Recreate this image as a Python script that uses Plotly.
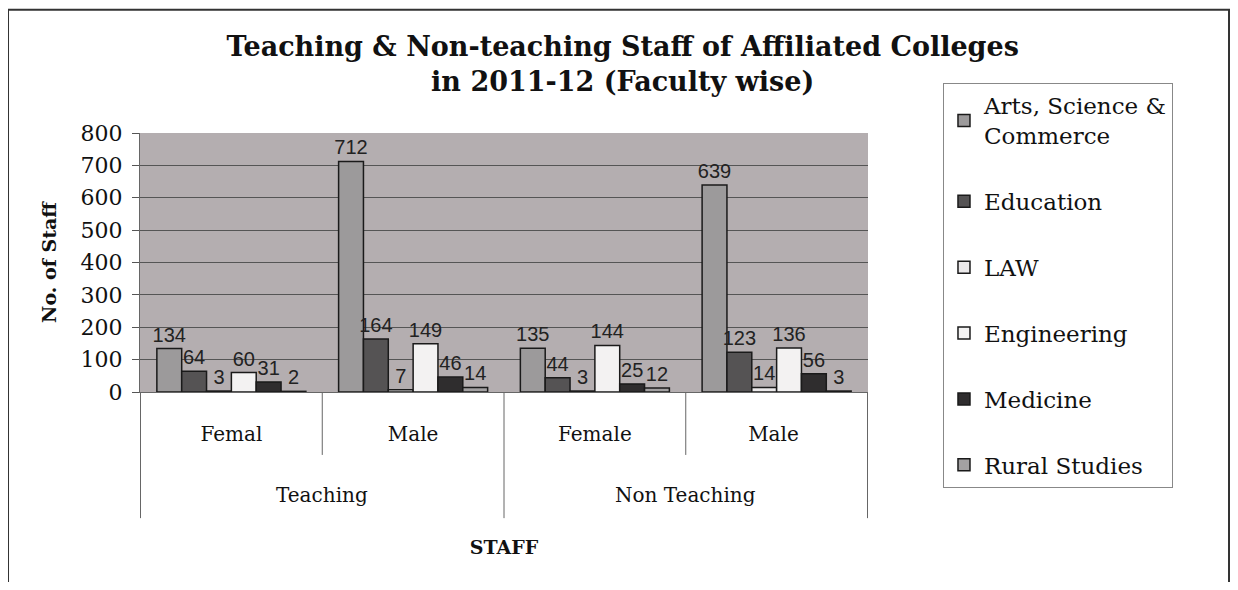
import plotly.graph_objects as go

staff_type = ["Teaching", "Teaching", "Non Teaching", "Non Teaching"]
# trailing space keeps the second "Male" as its own category
gender = ["Femal", "Male", "Female", "Male "]

faculties = ["Arts, Science &<br>Commerce", "Education", "LAW", "Engineering", "Medicine", "Rural Studies"]
arts = [134, 712, 135, 639]
education = [64, 164, 44, 123]
law = [3, 7, 3, 14]
engineering = [60, 149, 144, 136]
medicine = [31, 46, 25, 56]
rural = [2, 14, 12, 3]

series = [arts, education, law, engineering, medicine, rural]
colors = ["#9c9a9b", "#555354", "#ebe9ea", "#f3f2f2", "#2f2d2e", "#a3a1a2"]

fig = go.Figure()
for i, (name, vals) in enumerate(zip(faculties, series)):
    fig.add_trace(go.Bar(
        x=gender, y=vals, name=name,
        marker=dict(color=colors[i], line=dict(color="#1a1a1a", width=1.5)),
        text=vals, textposition="outside", cliponaxis=False,
        textfont=dict(family="Liberation Sans", size=20, color="#222"),
        legendgroup=str(i),
    ))

# outer category labels + divider lines under the axis
groups = []
for idx, g in enumerate(staff_type):
    if not groups or groups[-1][0] != g:
        groups.append([g, idx, idx])
    else:
        groups[-1][2] = idx

annotations = []
shapes = []
line_c = "#666"
for g, first, last in groups:
    annotations.append(dict(
        x=(first + last) / 2, xref="x", y=-0.398, yref="paper",
        text=g, showarrow=False, yanchor="middle",
        font=dict(family="DejaVu Serif", size=20, color="#111"),
    ))
    shapes.append(dict(type="line", xref="x", yref="paper", x0=first - 0.5, x1=first - 0.5,
                       y0=0, y1=-0.487, line=dict(color=line_c, width=1)))
shapes.append(dict(type="line", xref="x", yref="paper", x0=len(gender) - 0.5, x1=len(gender) - 0.5,
                   y0=0, y1=-0.487, line=dict(color=line_c, width=1)))
for idx in range(len(gender) - 1):
    if staff_type[idx] == staff_type[idx + 1]:
        shapes.append(dict(type="line", xref="x", yref="paper", x0=idx + 0.5, x1=idx + 0.5,
                           y0=0, y1=-0.243, line=dict(color=line_c, width=1)))

# outer frame of the chart
shapes.append(dict(
    type="rect", xref="paper", yref="paper",
    x0=-0.1813, x1=1.4959, y0=-0.85, y1=1.476,
    line=dict(color="#333", width=2), fillcolor="rgba(0,0,0,0)", layer="below",
))

# page body adds 8px margins, so the figure is kept inside the window
fig.update_layout(
    width=1222, height=574,
    margin=dict(l=132, r=362, t=125, b=190),
    paper_bgcolor="white",
    plot_bgcolor="#b4aeb0",
    barmode="group", bargap=0.18, bargroupgap=0,
    uniformtext=dict(minsize=20, mode="show"),
    title=dict(
        text="<b>Teaching & Non-teaching Staff of Affiliated Colleges<br>in 2011-12 (Faculty wise)</b>",
        x=0.503, xanchor="center", y=0.916, yanchor="top",
        font=dict(family="DejaVu Serif", size=27, color="#111"),
    ),
    font=dict(family="DejaVu Serif", color="#111"),
    showlegend=True,
    legend=dict(
        x=1.103, y=1.193, xanchor="left", yanchor="top",
        bordercolor="#888", borderwidth=1,
        font=dict(family="DejaVu Serif", size=23, color="#111"),
        tracegroupgap=33, traceorder="grouped",
        itemwidth=30, maxheight=0.95,
        itemclick=False,
    ),
    xaxis=dict(
        type="category",
        showline=True, linecolor=line_c,
        ticks="", ticklabelstandoff=24,
        tickfont=dict(family="DejaVu Serif", size=20, color="#111"),
        title=dict(text="<b>STAFF</b>", font=dict(family="DejaVu Serif", size=19, color="#111"), standoff=95),
    ),
    yaxis=dict(
        range=[0, 800], dtick=100,
        gridcolor="#555", gridwidth=1,
        showline=True, linecolor=line_c,
        ticks="outside", ticklen=7, tickcolor="#555",
        ticklabelstandoff=5,
        tickfont=dict(family="DejaVu Serif", size=22, color="#111"),
        title=dict(text="<b>No. of Staff</b>", font=dict(family="DejaVu Serif", size=19, color="#111"), standoff=18),
        zeroline=False,
    ),
    annotations=annotations,
    shapes=shapes,
)

fig.write_html("out.html")
